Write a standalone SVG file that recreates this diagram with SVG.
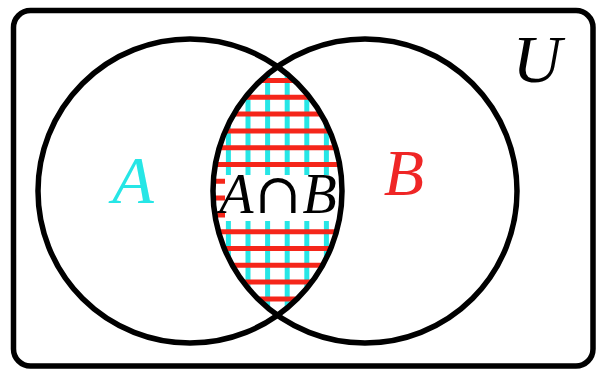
<svg xmlns="http://www.w3.org/2000/svg" width="598" height="369" viewBox="0 0 598 369">
  <style>
    .outline { fill: none; stroke: #000; stroke-width: 5.5; }
    .cy { stroke: #26e6e6; stroke-width: 5; }
    .rd { stroke: #f5261a; stroke-width: 5; }
  </style>
  <defs>
    <clipPath id="clipA"><circle cx="190" cy="191" r="152"/></clipPath>
    <clipPath id="clipB"><circle cx="365" cy="191" r="152"/></clipPath>
  </defs>

  <g id="universe">
    <rect class="outline" x="13.5" y="10.5" width="579.5" height="355.5" rx="17"/>
    <text x="537" y="82" font-family="Liberation Serif" font-style="italic" text-anchor="middle" font-size="68" fill="#000">U</text>
  </g>

  <g id="intersection">
    <g clip-path="url(#clipA)">
      <g clip-path="url(#clipB)">
        <g class="cy">
          <line x1="228.4" y1="60" x2="228.4" y2="320"/>
          <line x1="248" y1="60" x2="248" y2="320"/>
          <line x1="267.6" y1="60" x2="267.6" y2="320"/>
          <line x1="287.2" y1="60" x2="287.2" y2="320"/>
          <line x1="306.8" y1="60" x2="306.8" y2="320"/>
          <line x1="326.4" y1="60" x2="326.4" y2="320"/>
        </g>
        <g class="rd">
          <line x1="200" y1="80.5" x2="360" y2="80.5"/>
          <line x1="200" y1="97.3" x2="360" y2="97.3"/>
          <line x1="200" y1="114.1" x2="360" y2="114.1"/>
          <line x1="200" y1="130.9" x2="360" y2="130.9"/>
          <line x1="200" y1="147.7" x2="360" y2="147.7"/>
          <line x1="200" y1="164.5" x2="360" y2="164.5"/>
          <line x1="200" y1="181.3" x2="360" y2="181.3"/>
          <line x1="200" y1="198.1" x2="360" y2="198.1"/>
          <line x1="200" y1="214.9" x2="360" y2="214.9"/>
          <line x1="200" y1="231.7" x2="360" y2="231.7"/>
          <line x1="200" y1="248.5" x2="360" y2="248.5"/>
          <line x1="200" y1="265.3" x2="360" y2="265.3"/>
          <line x1="200" y1="282.1" x2="360" y2="282.1"/>
          <line x1="200" y1="298.9" x2="360" y2="298.9"/>
        </g>
      </g>
    </g>
    <rect x="225" y="175" width="125" height="46" fill="#fff"/>
    <text x="278" y="213" font-family="Liberation Serif" font-style="italic" text-anchor="middle" font-size="56" fill="#000">A<tspan font-family="DejaVu Serif" font-style="normal" dx="1">∩</tspan><tspan dx="1">B</tspan></text>
  </g>

  <g id="setA">
    <circle class="outline" cx="190" cy="191" r="152"/>
    <text x="133" y="203" font-family="Liberation Serif" font-style="italic" text-anchor="middle" font-size="68" fill="#26e6e6">A</text>
  </g>

  <g id="setB">
    <circle class="outline" cx="365" cy="191" r="152"/>
    <text x="404" y="195" font-family="Liberation Serif" font-style="italic" text-anchor="middle" font-size="66" fill="#ef2626">B</text>
  </g>
</svg>
